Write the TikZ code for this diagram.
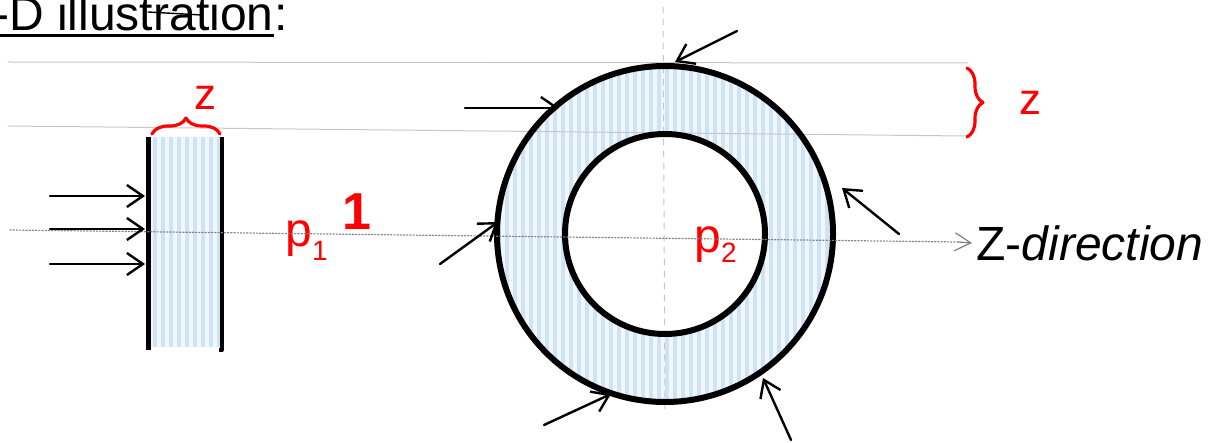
\documentclass[tikz,border=0pt]{standalone}
\usepackage{fontspec}
\setmainfont{Liberation Sans}
\usepackage{tikz}
\usetikzlibrary{arrows.meta}
\usetikzlibrary{positioning,calc}
\usetikzlibrary{decorations.pathreplacing}

\definecolor{stripeblue}{RGB}{207,227,246}
\definecolor{paleblue}{RGB}{241,247,253}
\definecolor{labelred}{RGB}{255,0,0}

\begin{document}
\begin{tikzpicture}[x=0.5pt,y=-0.5pt,>=Latex,line join=round,line cap=round]
% -------------------------------------------------
% Styles
% -------------------------------------------------
\tikzset{
  guide/.style={draw=black!22, line width=0.5pt},
  axisline/.style={draw=black!50, line width=0.6pt, densely dotted},
  axishead/.style={draw=black!50, line width=0.6pt, -{Straight Barb[length=8pt,width=9pt]}},
  stripe/.style={draw=stripeblue, line width=2.3pt, line cap=butt},
  wall/.style={draw=black, line width=2.5pt, line cap=butt},
  ringline/.style={draw=black, line width=3pt},
  force/.style={-{Straight Barb[length=8pt,width=11pt]}, line width=1.2pt},
  zbrace/.style={draw=labelred, line width=1.6pt, decorate, decoration={brace,amplitude=8pt}},
  redlabel/.style={text=labelred, inner sep=0pt, font=\fontsize{22}{22}\selectfont},
  sublabel/.style={text=labelred, inner sep=0pt, font=\fontsize{24}{24}\selectfont},
}
\useasboundingbox (0,0) rectangle (1209,443);

% -------------------------------------------------
% Title
% -------------------------------------------------
\node[anchor=base west, inner sep=0pt, font=\fontsize{24}{24}\selectfont] (title) at (-7,31) {-D illustration};
\node[anchor=base west, inner sep=0pt, font=\fontsize{24}{24}\selectfont] (colon) at (title.base east) {:};
\draw[line width=1.5pt, line cap=butt] ([yshift=-2.5pt]title.base west) -- ([yshift=-2.5pt]title.base east);
\draw[line width=0.7pt] (148,12) -- (202,15);

% -------------------------------------------------
% Slab (left)
% -------------------------------------------------
\fill[paleblue] (150,137) rectangle (221,347);
\foreach \x in {155,163,...,219}{
  \draw[stripe] (\x,137) -- (\x,347);
}

% -------------------------------------------------
% Ring (right)
% -------------------------------------------------
\coordinate (ringc) at (665,234);
\fill[paleblue, even odd rule] (ringc) circle (84pt) (ringc) circle (50pt);
\begin{scope}
  \clip (ringc) circle (84pt);
  \foreach \x in {499,507,...,835}{
    \draw[stripe] (\x,60) -- (\x,410);
  }
\end{scope}
\fill[white] (ringc) circle (50pt);

% -------------------------------------------------
% Guide lines
% -------------------------------------------------
\draw[guide] (8,62) -- (968,63);
\draw[guide] (8,126) -- (966,136);
\draw[guide, dashed] (663,7) -- (665,410);

% -------------------------------------------------
% Walls and circles
% -------------------------------------------------
\draw[wall] (148,137) -- (148,350);
\draw[wall, line width=2pt] (222,137) -- (222,350) -- (219,350);
\draw[ringline] (ringc) circle (84pt);
\draw[ringline] (ringc) circle (50pt);

% -------------------------------------------------
% Labels
% -------------------------------------------------
\node[redlabel, anchor=base] (zleft) at (205,110) {z};
\node[redlabel, anchor=base] (zright) at (1030,115) {z};
\node[sublabel, anchor=base west] (pone) at (285,247) {p\raisebox{-6.5pt}{\fontsize{14}{14}\selectfont 1}};
\node[sublabel, anchor=base] (onelabel) at (357,229) {\fontsize{26}{26}\selectfont\bfseries 1};
\node[sublabel, anchor=base west] (ptwo) at (694,252) {p\raisebox{-5.5pt}{\fontsize{14}{14}\selectfont 2}};
\node[anchor=west, inner sep=0pt, font=\fontsize{24}{24}\selectfont] (zdir) at (976,243) {Z-\textit{direction}};

% braces
\draw[zbrace] (152,134) -- (220,134);
\draw[zbrace] (967,68) -- (967,137);

% Z axis
\coordinate (axstart) at (10,230);
\coordinate (axend) at (958,242);
\draw[axisline] (axstart) -- (axend);
\draw[axishead] (axend) -- ([xshift=-2pt]zdir.west);

% -------------------------------------------------
% Pressure arrows
% -------------------------------------------------
\foreach \y/\n in {196/a,229/b,264/c}{
  \coordinate (sl\n) at (50,\y);
  \coordinate (se\n) at (145,\y);
  \draw[force] (sl\n) -- (se\n);
}
\coordinate (ftops) at (737,31);   \coordinate (ftope) at (675,62);
\coordinate (flefts) at (465,108); \coordinate (flefte) at (559,108);
\coordinate (frs) at (899,234);    \coordinate (fre) at (842,188);
\coordinate (fls) at (440,264);    \coordinate (fle) at (498,222);
\coordinate (fbls) at (544,425);   \coordinate (fble) at (611,394);
\coordinate (fbrs) at (791,440);   \coordinate (fbre) at (763,378);
\draw[force] (ftops) -- (ftope);
\draw[force] (flefts) -- (flefte);
\draw[force] (frs) -- (fre);
\draw[force] (fls) -- (fle);
\draw[force] (fbls) -- (fble);
\draw[force] (fbrs) -- (fbre);

\end{tikzpicture}
\end{document}
